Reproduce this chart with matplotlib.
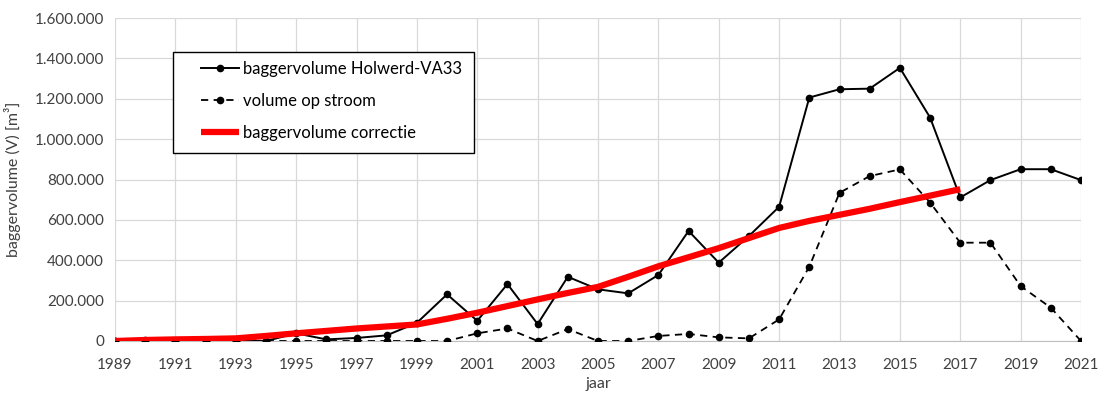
import matplotlib
matplotlib.use("Agg")
import matplotlib.pyplot as plt
from matplotlib.patches import Rectangle
from matplotlib.ticker import FuncFormatter, MultipleLocator

plt.rcParams['font.family'] = ['Lato', 'DejaVu Sans']

years = list(range(1989, 2022))

holwerd = [0, 5000, 0, 0, 0, 0, 38000, 8000, 15000, 28000, 90000,
           231000, 100000, 282000, 84000, 318000, 256000, 236000, 327000,
           545000, 388000, 520000, 665000, 1206000, 1247000, 1250000,
           1353000, 1107000, 711000, 797000, 851000, 851000, 797000]

op_stroom = [0, 0, 0, 0, 0, 0, 0, 0, 0, 0, 0,
             0, 38000, 62000, 0, 59000, 0, 0, 25000,
             35000, 18000, 13000, 107000, 368000, 734000, 817000,
             850000, 686000, 487000, 487000, 272000, 165000, 0]

corr_years = list(range(1989, 2018))
correctie = [0, 5000, 8000, 10000, 13000, 25000, 38000, 50000, 62000, 72000,
             82000, 110000, 140000, 173000, 206000, 238000, 268000, 318000,
             370000, 415000, 460000, 510000, 560000, 595000, 625000, 655000,
             688000, 720000, 752000]

labels = ['baggervolume Holwerd-VA33', 'volume op stroom', 'baggervolume correctie']
xticks = list(range(1989, 2022, 2))

fig = plt.figure(figsize=(11.09, 3.94), dpi=100)
ax = fig.add_axes([115 / 1109, 53 / 394, 966 / 1109, 323 / 394])

txt = '#404040'
ax.plot(years, holwerd, color='black', lw=1.4, marker='o', ms=4.5,
        label=labels[0], zorder=3)
ax.plot(years, op_stroom, color='black', lw=1.3, ls=(0, (4, 3)), marker='o',
        ms=4.5, label=labels[1], zorder=3)
ax.plot(corr_years, correctie, color='#ff0000', lw=4.5, solid_capstyle='butt',
        label=labels[2], zorder=4)

ax.set_xlim(1989, 2021)
ax.set_ylim(0, 1600000)
ax.set_xticks(xticks)
ax.yaxis.set_major_locator(MultipleLocator(200000))
ax.yaxis.set_major_formatter(FuncFormatter(lambda v, p: f"{v:,.0f}".replace(",", ".")))

ax.grid(True, color='#d9d9d9', lw=0.9)
ax.set_axisbelow(True)
for s in ['top', 'right', 'left']:
    ax.spines[s].set_visible(False)
ax.spines['bottom'].set_color('#bfbfbf')
ax.tick_params(axis='y', length=0, labelsize=11, labelcolor=txt, pad=8)
ax.tick_params(axis='x', length=0, labelsize=11, labelcolor=txt, pad=12)

ax.set_xlabel('jaar', fontsize=11.5, color=txt, labelpad=4)
ax.set_ylabel('baggervolume (V) [m³]', fontsize=11.5, color=txt, labelpad=10)

# legend box drawn as a plain rectangle around a frameless legend
ax.add_patch(Rectangle((0.060, 0.582), 0.3116, 0.3127, transform=ax.transAxes,
                       facecolor='white', edgecolor='black', lw=1.0,
                       zorder=5, clip_on=False))
leg = ax.legend(loc='upper left', bbox_to_anchor=(0.089, 0.867), fontsize=12,
                frameon=False, handlelength=2.3, handletextpad=0.2,
                labelspacing=0.95, borderpad=0, borderaxespad=0)
leg.set_zorder(6)
for t in leg.get_texts():
    t.set_color('black')

fig.savefig('out.png', dpi=100)
